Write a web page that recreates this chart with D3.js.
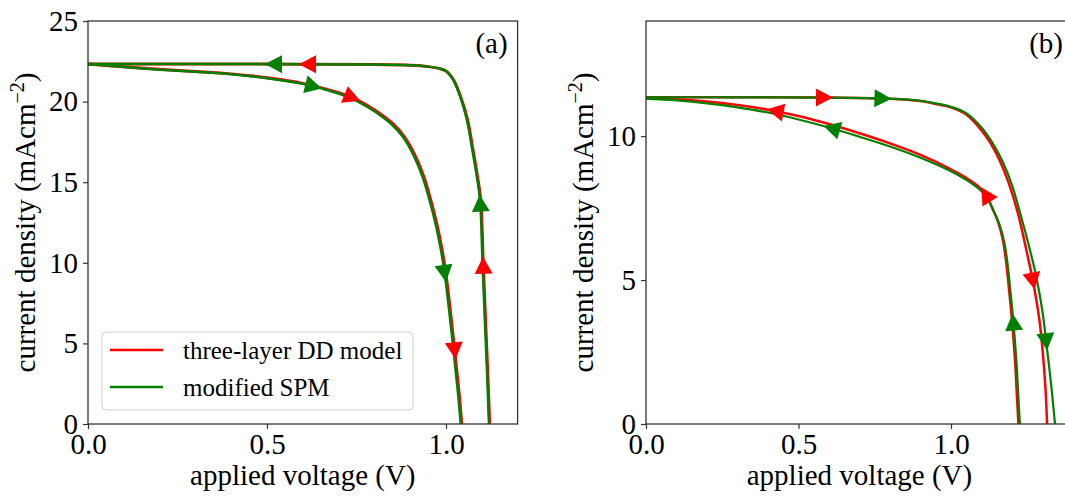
<!DOCTYPE html>
<html><head><meta charset="utf-8">
<script src="https://cdn.jsdelivr.net/npm/d3@7"></script>
<style>
body{margin:0;background:#fff}
svg{display:block}
text{font-family:"Liberation Serif","Times New Roman",serif;fill:#000}
</style></head>
<body><svg id="c" width="1065" height="496"></svg>
<script>
// ---------- tick values ----------
const xTicksA = [0, 0.5, 1.0];
const yTicksA = [0, 5, 10, 15, 20, 25];
const xTicksB = [0, 0.5, 1.0];
const yTicksB = [0, 5, 10];
const seriesNames = ["three-layer DD model", "modified SPM"];
const seriesColors = ["#ff0000", "#008000"];

// ---------- panel (a) data: voltage (V), current density (mA cm^-2) ----------
// forward scan (0 -> Voc)
const aRedFwdV = [0, 0.1, 0.2, 0.3, 0.4, 0.5, 0.6, 0.7, 0.753, 0.803, 0.853, 0.883, 0.913, 0.938, 0.958, 0.975, 0.988, 0.999, 1.009, 1.019, 1.029, 1.037, 1.044];
const aRedFwdJ = [22.33, 22.16, 22.0, 21.87, 21.72, 21.48, 21.13, 20.55, 20.1, 19.45, 18.6, 17.85, 16.7, 15.35, 13.85, 12.35, 10.95, 9.45, 7.65, 5.65, 3.55, 1.85, 0];
const aGrnFwdV = [0, 0.1, 0.2, 0.3, 0.4, 0.5, 0.6, 0.7, 0.75, 0.8, 0.85, 0.88, 0.91, 0.935, 0.955, 0.972, 0.985, 0.996, 1.006, 1.016, 1.026, 1.034, 1.041];
const aGrnFwdJ = [22.33, 22.15, 21.98, 21.85, 21.7, 21.45, 21.1, 20.5, 20.05, 19.4, 18.55, 17.8, 16.65, 15.3, 13.8, 12.3, 10.9, 9.4, 7.6, 5.6, 3.5, 1.8, 0];
// reverse scan (Voc -> 0)
const aRedRevV = [0, 0.3, 0.6, 0.8, 0.9, 0.95, 0.98, 1.0, 1.021, 1.041, 1.06, 1.074, 1.087, 1.097, 1.104, 1.111, 1.117, 1.122];
const aRedRevJ = [22.33, 22.33, 22.32, 22.3, 22.25, 22.17, 22.06, 21.9, 21.35, 20.3, 18.9, 17.2, 15.5, 13.9, 10.0, 6.2, 3.0, 0];
const aGrnRevV = [0, 0.3, 0.6, 0.8, 0.9, 0.95, 0.98, 1.0, 1.02, 1.04, 1.058, 1.072, 1.085, 1.095, 1.102, 1.109, 1.115, 1.12];
const aGrnRevJ = [22.33, 22.33, 22.32, 22.3, 22.25, 22.17, 22.06, 21.9, 21.35, 20.3, 18.9, 17.2, 15.5, 13.9, 10.0, 6.2, 3.0, 0];
// direction markers [V, J]
const aRedFwdArrows = [[0.735, 20.3], [1.028, 4.65]];
const aGrnFwdArrows = [[0.626, 21.0], [0.997, 9.43]];
const aRedRevArrows = [[0.617, 22.33], [1.104, 9.76]];
const aGrnRevArrows = [[0.522, 22.33], [1.096, 13.6]];

// ---------- panel (b) data ----------
// forward scan (upper curve)
const bRedFwdV = [0, 0.3, 0.6, 0.8, 0.9, 0.95, 1.0, 1.05, 1.1, 1.13, 1.16, 1.19, 1.22, 1.25, 1.27, 1.29, 1.30, 1.31, 1.315];
const bRedFwdJ = [11.35, 11.35, 11.34, 11.3, 11.22, 11.12, 11.0, 10.75, 10.2, 9.75, 9.15, 8.35, 7.3, 5.9, 4.9, 3.6, 2.6, 1.2, 0];
const bGrnFwdV = [0, 0.3, 0.6, 0.8, 0.9, 0.95, 1.0, 1.05, 1.1, 1.14, 1.17, 1.2, 1.23, 1.26, 1.28, 1.3, 1.315, 1.33, 1.341];
const bGrnFwdJ = [11.35, 11.35, 11.34, 11.3, 11.23, 11.14, 11.02, 10.8, 10.3, 9.7, 9.1, 8.3, 7.2, 6.0, 5.1, 3.9, 2.6, 1.2, 0];
// reverse scan (lower curve)
const bRedRevV = [0, 0.1, 0.2, 0.3, 0.4, 0.5, 0.6, 0.7, 0.8, 0.9, 1.0, 1.05, 1.09, 1.115, 1.135, 1.155, 1.17, 1.18, 1.19, 1.2, 1.21, 1.215, 1.221];
const bRedRevJ = [11.32, 11.28, 11.2, 11.08, 10.92, 10.7, 10.42, 10.1, 9.75, 9.35, 8.85, 8.55, 8.25, 7.95, 7.5, 7.0, 6.4, 5.7, 4.7, 3.6, 2.2, 1.2, 0];
const bGrnRevV = [0, 0.1, 0.2, 0.3, 0.4, 0.5, 0.6, 0.7, 0.8, 0.9, 1.0, 1.05, 1.09, 1.12, 1.14, 1.16, 1.175, 1.185, 1.195, 1.205, 1.215, 1.22, 1.226];
const bGrnRevJ = [11.3, 11.24, 11.14, 11.0, 10.82, 10.58, 10.3, 9.98, 9.64, 9.25, 8.78, 8.48, 8.18, 7.85, 7.4, 6.9, 6.3, 5.6, 4.6, 3.5, 2.1, 1.1, 0];
const bRedFwdArrows = [[0.581, 11.35], [1.265, 5.0]];
const bGrnFwdArrows = [[0.772, 11.33], [1.31, 2.9]];
const bRedRevArrows = [[0.428, 10.86], [1.12, 7.95]];
const bGrnRevArrows = [[0.614, 10.28], [1.21, 3.5]];

// ---------- drawing ----------
const svg = d3.select("#c");
const FS = 29;

function zip(v, j) { return v.map((d, i) => [d, j[i]]); }

function panel(cfg) {
  const x = d3.scaleLinear().domain(cfg.xDomain).range([cfg.left, cfg.right]);
  const y = d3.scaleLinear().domain(cfg.yDomain).range([cfg.bottom, cfg.top]);
  const g = svg.append("g");

  // axes
  const ax = g.append("g").attr("transform", `translate(0,${cfg.bottom})`)
    .call(d3.axisBottom(x).tickValues(cfg.xTicks).tickSize(5).tickPadding(4).tickFormat(d3.format(".1f")));
  const ay = g.append("g").attr("transform", `translate(${cfg.left},0)`)
    .call(d3.axisLeft(y).tickValues(cfg.yTicks).tickSize(5).tickPadding(5).tickFormat(d3.format("d")));
  [ax, ay].forEach(a => {
    a.select(".domain").remove();
    a.selectAll("line").attr("stroke", "#333").attr("stroke-width", 1.2);
    a.selectAll("text").attr("font-size", FS).attr("font-family", '"Liberation Serif","Times New Roman",serif').attr("fill", "#000");
  });

  const line = d3.line().x(d => x(d[0])).y(d => y(d[1])).curve(d3.curveCatmullRom.alpha(0.5));
  const lines = g.append("g");
  const arrows = g.append("g");

  cfg.curves.forEach(c => {
    const p = lines.append("path").datum(zip(c.v, c.j))
      .attr("d", line).attr("fill", "none")
      .attr("stroke", c.color).attr("stroke-width", c.width)
      .attr("stroke-linejoin", "round");
    const node = p.node();
    const L = node.getTotalLength();
    c.arrows.forEach(a => {
      const px = x(a[0]), py = y(a[1]);
      let best = 0, bd = Infinity;
      for (let s = 0; s <= L; s += 0.5) {
        const q = node.getPointAtLength(s);
        const dd = (q.x - px) ** 2 + (q.y - py) ** 2;
        if (dd < bd) { bd = dd; best = s; }
      }
      const q = node.getPointAtLength(best);
      const q1 = node.getPointAtLength(Math.max(0, best - 3));
      const q2 = node.getPointAtLength(Math.min(L, best + 3));
      const ang = Math.atan2(q2.y - q1.y, q2.x - q1.x) * 180 / Math.PI + (c.dir < 0 ? 180 : 0);
      arrows.append("path")
        .attr("d", "M10,0L-7,-9L-7,9Z")
        .attr("transform", `translate(${q.x},${q.y}) rotate(${ang})`)
        .attr("fill", c.color);
    });
  });

  // frame
  g.append("rect").attr("x", cfg.left).attr("y", cfg.top)
    .attr("width", cfg.right - cfg.left).attr("height", cfg.bottom - cfg.top)
    .attr("fill", "none").attr("stroke", "#333").attr("stroke-width", 1.3);

  // axis labels
  g.append("text").attr("x", (cfg.left + cfg.right) / 2).attr("y", 485)
    .attr("text-anchor", "middle").attr("font-size", FS).text("applied voltage (V)");
  const yl = g.append("text")
    .attr("transform", `translate(${cfg.left - 53},${(cfg.top + cfg.bottom) / 2}) rotate(-90)`)
    .attr("text-anchor", "middle").attr("font-size", FS);
  yl.append("tspan").text("current density (mAcm");
  yl.append("tspan").attr("dy", -11).attr("font-size", 20).text("\u22122");
  yl.append("tspan").attr("dy", 11).text(")");

  // panel tag
  g.append("text").attr("x", cfg.right - 10).attr("y", 53)
    .attr("text-anchor", "end").attr("font-size", FS).text(cfg.tag);
  return { x, y, g };
}

const A = panel({
  left: 88, right: 517.6, top: 21, bottom: 424,
  xDomain: [0, 1.2], yDomain: [0, 25], xTicks: xTicksA, yTicks: yTicksA, tag: "(a)",
  curves: [
    { v: aRedFwdV, j: aRedFwdJ, color: seriesColors[0], width: 3, dir: 1, arrows: aRedFwdArrows },
    { v: aRedRevV, j: aRedRevJ, color: seriesColors[0], width: 3, dir: -1, arrows: aRedRevArrows },
    { v: aGrnFwdV, j: aGrnFwdJ, color: seriesColors[1], width: 2.5, dir: 1, arrows: aGrnFwdArrows },
    { v: aGrnRevV, j: aGrnRevJ, color: seriesColors[1], width: 2.5, dir: -1, arrows: aGrnRevArrows }
  ]
});

panel({
  left: 646, right: 646 + 1.4 * 305, top: 21, bottom: 424,
  xDomain: [0, 1.4], yDomain: [0, 14], xTicks: xTicksB, yTicks: yTicksB, tag: "(b)",
  curves: [
    { v: bRedFwdV, j: bRedFwdJ, color: seriesColors[0], width: 2.5, dir: 1, arrows: bRedFwdArrows },
    { v: bRedRevV, j: bRedRevJ, color: seriesColors[0], width: 2.5, dir: -1, arrows: bRedRevArrows },
    { v: bGrnFwdV, j: bGrnFwdJ, color: seriesColors[1], width: 2.2, dir: 1, arrows: bGrnFwdArrows },
    { v: bGrnRevV, j: bGrnRevJ, color: seriesColors[1], width: 2.2, dir: -1, arrows: bGrnRevArrows }
  ]
});

// legend in panel (a)
const lg = A.g.append("g");
lg.append("rect").attr("x", 102).attr("y", 332).attr("width", 311).attr("height", 78)
  .attr("rx", 4).attr("fill", "#fff").attr("fill-opacity", 0.8)
  .attr("stroke", "#d0d0d0").attr("stroke-width", 1);
seriesNames.forEach((n, i) => {
  const yy = 350 + i * 37;
  lg.append("line").attr("x1", 110).attr("x2", 163).attr("y1", yy).attr("y2", yy)
    .attr("stroke", seriesColors[i]).attr("stroke-width", 2.5);
  lg.append("text").attr("x", 183).attr("y", yy + 9).attr("font-size", 25).text(n);
});
</script>
</body></html>
